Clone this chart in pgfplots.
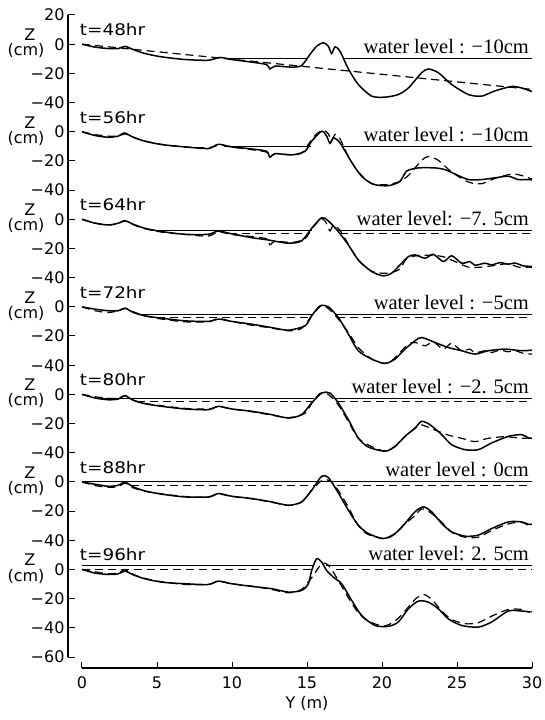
\documentclass[border=0pt]{standalone}
\usepackage{fontspec}
\setmainfont{DejaVu Sans}
\newfontfamily\serifwl{Liberation Serif}
\newfontfamily\widesans[FakeStretch=1.15]{DejaVu Sans}
\usepackage{pgfplots}
\pgfplotsset{compat=1.18}
\usepackage{pgfplotstable}
\newcommand{\tl}{\fontsize{16}{19}\selectfont}
\newcommand{\timefont}{\widesans\fontsize{16}{19}\selectfont}
\newcommand{\wl}{\serifwl\fontsize{20.5}{24}\selectfont}

% 48 hr
\pgfplotstableread{
x z
0 0
0.87 -2
1.76 -3
2.42 -3
2.87 -1.5
3.42 -3.7
4.20 -6.4
5.31 -8.7
6.87 -10.5
8.42 -11
9.20 -9.1
9.98 -10.5
11.31 -12.3
12.31 -14
12.53 -17
12.87 -15
13.98 -15.7
14.64 -14.6
15.20 -7
15.64 -1.4
16.09 1
16.42 -1.4
16.64 -6.4
16.87 -1.8
17.20 -4.8
17.76 -17
18.42 -27.6
19.31 -35.6
20.20 -36.3
21.09 -34.5
21.76 -30
22.64 -19.6
23.09 -17
23.76 -19.6
24.64 -27.6
25.76 -34.5
26.64 -35.6
27.53 -32
28.64 -29
29.31 -30
29.87 -32
30 -32.5
}\pA
% 56 hr
\pgfplotstableread{
x z
0 0
0.87 -2.6
1.76 -3.8
2.42 -3
2.82 -0.8
3.42 -3.8
4.20 -6.5
5.31 -8.8
6.87 -10.4
8.42 -11.5
9.09 -8.6
9.98 -10.4
11.31 -11.8
12.31 -13.4
12.53 -17.5
12.87 -15
13.98 -15.9
14.87 -13.4
15.31 -6.5
15.98 0.3
16.31 -3
16.53 -8
16.76 -4.2
17.20 -7.6
17.98 -21
18.64 -30.5
19.42 -36
20.42 -37
21.20 -34
21.64 -27
22.42 -24.8
23.53 -24.8
24.20 -26
24.87 -29
25.76 -32.8
26.64 -32.8
27.53 -31.6
28.42 -30.5
29.09 -32.8
29.76 -32.8
30 -33
}\pB
% 64 hr
\pgfplotstableread{
x z
0 0
0.87 -2.7
1.76 -3.9
2.42 -2.7
2.87 -1.1
3.42 -3.4
4.20 -6.2
5.31 -8.4
6.87 -10.3
8.42 -10.3
9.09 -8
9.98 -10
11.31 -12.6
12.42 -14.2
13.76 -16.4
14.64 -14.8
15.31 -6.2
15.98 1.1
16.42 -1.1
17.09 -8.4
17.76 -17.6
18.42 -27.9
19.31 -35.8
20.09 -38.8
20.64 -37
21.31 -30.1
21.76 -25.6
22.20 -24.4
22.87 -26.7
23.42 -24
24.09 -29
24.64 -25
25.31 -30.1
25.87 -29
26.20 -31.5
26.87 -30.1
27.31 -31.3
27.87 -29.7
28.42 -30.8
28.87 -30
29.42 -31.9
30 -32.4
}\pC
% 72 hr
\pgfplotstableread{
x z
0 0
0.87 -1.6
1.76 -2.7
2.42 -2.7
2.87 -0.9
3.42 -3.9
4.20 -6.2
5.31 -7.8
6.87 -9.6
8.42 -10
9.09 -8.4
9.98 -10
11.31 -11.9
12.64 -14.2
13.76 -16
14.87 -13
15.31 -6.2
15.87 0.7
16.42 0
17.09 -7.3
17.76 -18.7
18.42 -30.1
19.31 -35.8
20.20 -38.8
20.87 -35.8
21.53 -29
22.20 -23.3
22.64 -21
23.53 -24.4
24.42 -27.9
25.31 -30.1
26.20 -32.4
27.09 -30.1
28.20 -29
29.31 -30.1
30 -29.7
}\pD
% 80 hr
\pgfplotstableread{
x z
0 0
0.87 -2.5
1.76 -3.7
2.42 -3.2
2.87 -0.9
3.42 -4.1
4.20 -6.4
5.31 -8.2
6.87 -10
8.42 -10.5
9.09 -8.2
9.98 -10
11.31 -11.6
12.64 -13.9
13.76 -16.2
14.64 -13.9
15.31 -5.9
15.98 0.9
16.53 0.9
17.09 -5.9
17.76 -17.4
18.42 -29.9
19.09 -36.1
20.20 -39
20.87 -35.6
21.53 -28.8
22.20 -23.1
22.64 -18.5
23.20 -20.8
23.98 -27.6
24.64 -34.5
25.53 -37.9
26.42 -37.9
27.31 -33.3
28.42 -28.8
29.31 -27.6
29.76 -29.9
30 -30
}\pE
% 88 hr
\pgfplotstableread{
x z
0 0
0.87 -1.6
1.76 -3
2.42 -2.3
2.87 -0.2
3.42 -3.4
4.20 -6.2
5.31 -8.4
6.87 -10.3
8.42 -10.3
9.09 -8
9.98 -9.8
11.31 -11.4
12.64 -13.7
13.76 -16
14.64 -13.7
15.31 -5.7
15.98 3.9
16.42 3
16.98 -5.7
17.76 -19.4
18.42 -29.7
19.09 -35.4
20.09 -38.8
20.87 -35.4
21.53 -28.5
22.20 -20.5
22.76 -17.1
23.31 -20.5
23.98 -28.5
24.64 -34.2
25.53 -37.2
26.42 -36.5
27.31 -32
28.42 -27.4
29.31 -27.4
29.76 -29
30 -29
}\pF
% 96 hr
\pgfplotstableread{
x z
0 0
0.87 -2.5
1.76 -3.4
2.42 -3
2.87 -1.1
3.42 -3.7
4.20 -6.4
5.31 -8.7
6.87 -9.8
8.42 -10.3
9.09 -8
9.98 -9.8
11.31 -11.6
12.64 -13.2
13.76 -15.5
14.64 -14.4
15.09 -9.8
15.31 -0.7
15.64 7.3
15.98 5
16.31 -0.7
16.76 -5.3
17.31 -9.8
17.98 -21.2
18.64 -31.5
19.53 -38.4
20.42 -39
21.09 -36
21.76 -27
22.42 -21.7
23.09 -22.4
23.76 -27
24.42 -33.8
25.31 -38.4
26.42 -39.5
27.31 -36
28.42 -28.5
29.31 -28.5
29.87 -29.2
}\pG

\begin{document}
\begin{tikzpicture}
\useasboundingbox (-68pt,-63pt) rectangle (476pt,657pt);
\begin{axis}[
  at={(0pt,0pt)}, anchor=south west,
  scale only axis, width=464pt, height=642pt,
  xmin=-0.933, xmax=30, ymin=-420, ymax=20,
  axis y line*=left, axis x line=none,
  y axis line style={line width=1.1pt},
  ytick={20,0,-20,...,-420},
  yticklabels={20,0,−20,−40,0,−20,−40,0,−20,−40,0,−20,−40,0,−20,−40,0,−20,−40,0,−20,−40,−60},
  ytick align=inside, major tick length=7pt,
  ytick style={line width=1pt, black},
  yticklabel style={font=\tl},
  clip=false,
  prof/.style={black, line width=1.5pt, smooth, tension=0.45},
  dprof/.style={black, line width=1.2pt, smooth, tension=0.45, dash pattern=on 8pt off 5pt},
  wls/.style={black, line width=1pt},
  wld/.style={black, line width=1.1pt, dash pattern=on 8pt off 5pt},
]
% panel 48 hr (offset 0)
\addplot[dprof] coordinates {(0,0) (30,-31)};
\addplot[prof] table[x=x, y expr=\thisrow{z}] {\pA};
\addplot[wls] coordinates {(9.5,-10) (15.05,-10)};
\addplot[wls] coordinates {(17.4,-10) (30,-10)};
% panel 56 hr (offset -60)
\addplot[dprof] table[x=x, y expr=\thisrow{z}-60] {\pA};
\addplot[prof] table[x=x, y expr=\thisrow{z}-60] {\pB};
\addplot[wls] coordinates {(9.5,-70) (15.3,-70)};
\addplot[wls] coordinates {(17.4,-70) (30,-70)};
% panel 64 hr (offset -120)
\addplot[dprof] table[x=x, y expr=\thisrow{z}-120] {\pB};
\addplot[prof] table[x=x, y expr=\thisrow{z}-120] {\pC};
\addplot[wls] coordinates {(4.6,-127.5) (15.35,-127.5)};
\addplot[wls] coordinates {(17.0,-127.5) (30,-127.5)};
\addplot[wld] coordinates {(9.8,-130) (15.2,-130)};
\addplot[wld] coordinates {(17.2,-130) (30,-130)};
% panel 72 hr (offset -180)
\addplot[dprof] table[x=x, y expr=\thisrow{z}-180] {\pC};
\addplot[prof] table[x=x, y expr=\thisrow{z}-180] {\pD};
\addplot[wls] coordinates {(3.9,-185) (15.4,-185)};
\addplot[wls] coordinates {(16.9,-185) (30,-185)};
\addplot[wld] coordinates {(5.0,-187.5) (15.35,-187.5)};
\addplot[wld] coordinates {(17.0,-187.5) (30,-187.5)};
% panel 80 hr (offset -240)
\addplot[dprof] table[x=x, y expr=\thisrow{z}-240] {\pD};
\addplot[prof] table[x=x, y expr=\thisrow{z}-240] {\pE};
\addplot[wls] coordinates {(0.9,-242.5) (15.5,-242.5)};
\addplot[wls] coordinates {(16.9,-242.5) (30,-242.5)};
\addplot[wld] coordinates {(3.7,-245) (15.4,-245)};
\addplot[wld] coordinates {(17.0,-245) (30,-245)};
% panel 88 hr (offset -300)
\addplot[dprof] table[x=x, y expr=\thisrow{z}-300] {\pE};
\addplot[prof] table[x=x, y expr=\thisrow{z}-300] {\pF};
\addplot[wls] coordinates {(0,-300) (30,-300)};
\addplot[wld] coordinates {(3.3,-302.5) (15.5,-302.5)};
\addplot[wld] coordinates {(17.0,-302.5) (30,-302.5)};
% panel 96 hr (offset -360)
\addplot[dprof] table[x=x, y expr=\thisrow{z}-360] {\pF};
\addplot[prof] table[x=x, y expr=\thisrow{z}-360] {\pG};
\addplot[wls] coordinates {(0,-357.5) (15.45,-357.5)};
\addplot[wls] coordinates {(16.25,-357.5) (30,-357.5)};
\addplot[wld] coordinates {(0,-360) (15.3,-360)};
\addplot[wld] coordinates {(16.9,-360) (30,-360)};

% Z (cm) labels
\node[font=\tl] at (axis cs:-3.47,6.5) {Z};
\node[font=\tl] at (axis cs:-3.73,-4.5) {(cm)};
\node[font=\tl] at (axis cs:-3.47,-53.5) {Z};
\node[font=\tl] at (axis cs:-3.73,-64.5) {(cm)};
\node[font=\tl] at (axis cs:-3.47,-113.5) {Z};
\node[font=\tl] at (axis cs:-3.73,-124.5) {(cm)};
\node[font=\tl] at (axis cs:-3.47,-173.5) {Z};
\node[font=\tl] at (axis cs:-3.73,-184.5) {(cm)};
\node[font=\tl] at (axis cs:-3.47,-233.5) {Z};
\node[font=\tl] at (axis cs:-3.73,-244.5) {(cm)};
\node[font=\tl] at (axis cs:-3.47,-293.5) {Z};
\node[font=\tl] at (axis cs:-3.73,-304.5) {(cm)};
\node[font=\tl] at (axis cs:-3.47,-353.5) {Z};
\node[font=\tl] at (axis cs:-3.73,-364.5) {(cm)};
% time labels
\node[font=\timefont, anchor=west, inner sep=0pt] at (axis cs:-0.15,10) {t=48hr};
\node[font=\timefont, anchor=west, inner sep=0pt] at (axis cs:-0.15,-50) {t=56hr};
\node[font=\timefont, anchor=west, inner sep=0pt] at (axis cs:-0.15,-110) {t=64hr};
\node[font=\timefont, anchor=west, inner sep=0pt] at (axis cs:-0.15,-170) {t=72hr};
\node[font=\timefont, anchor=west, inner sep=0pt] at (axis cs:-0.15,-230) {t=80hr};
\node[font=\timefont, anchor=west, inner sep=0pt] at (axis cs:-0.15,-290) {t=88hr};
\node[font=\timefont, anchor=west, inner sep=0pt] at (axis cs:-0.15,-350) {t=96hr};
% water level labels
\node[font=\wl, anchor=base east, inner sep=0pt, yshift=5pt] at (axis cs:29.8,-10) {water level : −10cm};
\node[font=\wl, anchor=base east, inner sep=0pt, yshift=5pt] at (axis cs:29.8,-70) {water level : −10cm};
\node[font=\wl, anchor=base east, inner sep=0pt, yshift=5pt] at (axis cs:29.8,-127.5) {water level: −7. 5cm};
\node[font=\wl, anchor=base east, inner sep=0pt, yshift=5pt] at (axis cs:29.8,-185) {water level : −5cm};
\node[font=\wl, anchor=base east, inner sep=0pt, yshift=5pt] at (axis cs:29.8,-242.5) {water level : −2. 5cm};
\node[font=\wl, anchor=base east, inner sep=0pt, yshift=5pt] at (axis cs:29.8,-300) {water level : 0cm};
\node[font=\wl, anchor=base east, inner sep=0pt, yshift=5pt] at (axis cs:29.8,-357.5) {water level: 2. 5cm};
\end{axis}
\begin{axis}[
  at={(14pt,-11pt)}, anchor=south west,
  scale only axis, width=450pt, height=10pt,
  xmin=0, xmax=30, ymin=0, ymax=1,
  axis x line*=bottom, axis y line=none,
  x axis line style={line width=1.1pt},
  xtick={0,5,10,15,20,25,30},
  xticklabels={0,5,10,15,20,25,30},
  xtick align=inside, major tick length=6pt,
  xtick style={line width=1pt, black},
  xticklabel style={font=\tl, yshift=-5pt},
  xlabel={Y (m)},
  xlabel style={font=\tl, yshift=-1pt},
]
\end{axis}
\end{tikzpicture}
\end{document}
